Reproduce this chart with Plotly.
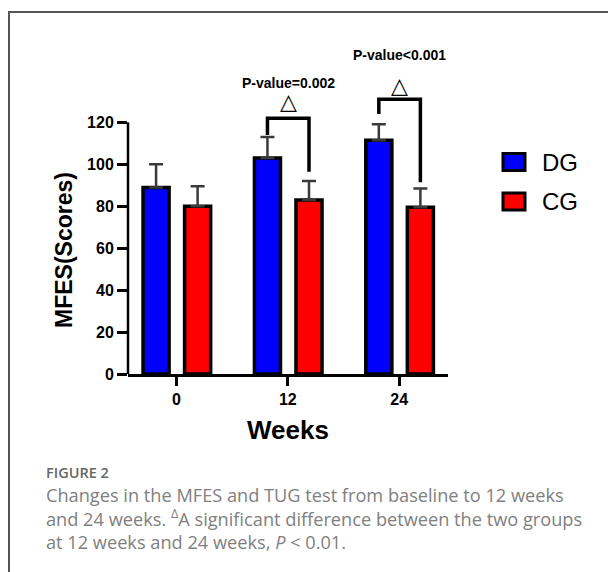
import plotly.graph_objects as go

# ---------------- data ----------------
weeks = ["0", "12", "24"]
dg_mean = [89, 103, 111.5]
dg_err = [11, 10, 7.6]
cg_mean = [80, 83, 79.5]
cg_err = [9.5, 9, 9]
y_ticks = [0, 20, 40, 60, 80, 100, 120]

# significance brackets (at week index 1 and 2)
sig_idx = [1, 2]
sig_left_bottom = [114, 124]
sig_top = [122, 131]
sig_right_bottom = [96.5, 91.5]
sig_tri_y = [129.8, 137.7]
sig_text_y = [138.6, 152]
sig_text = ["P-value=0.002", "P-value<0.001"]

# ---------------- layout geometry ----------------
OFF = 8  # page body margin
W, H = 616, 572
L, R = 128 - OFF, W - (448 - OFF)
T, B = 49 - OFF, H - (374 - OFF)
PW, PH = W - L - R, H - T - B


def px(x):
    return (x - OFF - L) / PW


def py(y):
    return (H - B - (y - OFF)) / PH


BAR_W = 0.234
DG_OFF = -0.30
CG_OFF = 0.073
dg_c = DG_OFF + BAR_W / 2
cg_c = CG_OFF + BAR_W / 2
xs = list(range(len(weeks)))

FONT = "Arial, Liberation Sans, sans-serif"

fig = go.Figure()
fig.add_trace(go.Bar(
    x=xs, y=dg_mean, name="DG", width=BAR_W, offset=DG_OFF,
    marker=dict(color="#0000FF", line=dict(color="black", width=3.5)),
    error_y=dict(type="data", symmetric=False, array=dg_err, arrayminus=[0] * 3,
                 color="#3a3a3a", thickness=2.5, width=7),
    showlegend=False,
))
fig.add_trace(go.Bar(
    x=xs, y=cg_mean, name="CG", width=BAR_W, offset=CG_OFF,
    marker=dict(color="#FF0000", line=dict(color="black", width=3.5)),
    error_y=dict(type="data", symmetric=False, array=cg_err, arrayminus=[0] * 3,
                 color="#3a3a3a", thickness=2.5, width=7),
    showlegend=False,
))

shapes = []
annotations = []

# y axis line (only up to 120)
shapes.append(dict(type="line", xref="x domain", yref="y", x0=0, x1=0,
                   y0=0, y1=max(y_ticks), line=dict(color="black", width=2.5)))

# brackets
for i, k in enumerate(sig_idx):
    xl = k + dg_c
    xr = k + cg_c
    path = (f"M {xl},{sig_left_bottom[i]} L {xl},{sig_top[i]} "
            f"L {xr},{sig_top[i]} L {xr},{sig_right_bottom[i]}")
    shapes.append(dict(type="path", xref="x", yref="y", path=path,
                       line=dict(color="black", width=3.5)))
    xm = k + (dg_c + cg_c) / 2
    annotations.append(dict(x=xm, y=sig_tri_y[i], xref="x", yref="y", text="△",
                            showarrow=False, font=dict(family="DejaVu Sans", size=22, color="black")))
    annotations.append(dict(x=xm, y=sig_text_y[i], xref="x", yref="y",
                            text=sig_text[i],
                            showarrow=False, font=dict(family=FONT, size=14, color="black", weight="bold")))

# legend (manual)
for lab, col, yc in [("DG", "#0000FF", 162), ("CG", "#FF0000", 201.5)]:
    shapes.append(dict(type="rect", xref="paper", yref="paper",
                       x0=px(503), x1=px(525), y0=py(yc - 8.5), y1=py(yc + 8.5),
                       fillcolor=col, line=dict(color="black", width=3)))
    annotations.append(dict(x=px(540), y=py(yc), xref="paper", yref="paper", text=lab,
                            xanchor="left", yanchor="middle", showarrow=False,
                            font=dict(family=FONT, size=24, color="black")))

# axis titles
annotations.append(dict(x=px(288), y=py(430), xref="paper", yref="paper", text="Weeks",
                        showarrow=False, xanchor="center", yanchor="middle",
                        font=dict(family=FONT, size=26, color="black", weight="bold")))
annotations.append(dict(x=px(64), y=py(250), xref="paper", yref="paper", text="MFES(Scores)",
                        showarrow=False, xanchor="center", yanchor="middle", textangle=-90,
                        font=dict(family=FONT, size=23, color="black", weight="bold")))

# frame
shapes.append(dict(type="path", xref="paper", yref="paper",
                   path=f"M {px(9)},{py(590)} L {px(9)},{py(12)} L {px(640)},{py(12)}",
                   line=dict(color="#555555", width=2)))

# caption
CAP_FONT = "Open Sans, Lato, sans-serif"
annotations.append(dict(x=px(44), y=py(473), xref="paper", yref="paper", text="FIGURE 2",
                        showarrow=False, xanchor="left", yanchor="middle",
                        font=dict(family=CAP_FONT, size=14.5, color="#666666", weight=600)))
cap_lines = [
    "Changes in the MFES and TUG test from baseline to 12 weeks",
    "and 24 weeks. <sup>Δ</sup>A significant difference between the two groups",
    "at 12 weeks and 24 weeks, <i>P</i> &lt; 0.01.",
]
annotations.append(dict(x=px(44), y=py(518.5), xref="paper", yref="paper",
                        text="<br>".join(cap_lines), align="left",
                        showarrow=False, xanchor="left", yanchor="middle",
                        font=dict(family=CAP_FONT, size=18.2, color="#808080")))

fig.update_layout(
    width=W, height=H,
    margin=dict(l=L, r=R, t=T, b=B),
    paper_bgcolor="white", plot_bgcolor="white",
    barmode="overlay",
    shapes=shapes, annotations=annotations,
    xaxis=dict(range=[-0.435, 2.438], tickvals=xs, ticktext=weeks,
               showline=True, linecolor="black", linewidth=2.5,
               ticks="outside", ticklen=9, tickwidth=2.5, tickcolor="black",
               showgrid=False, zeroline=False,
               tickfont=dict(family=FONT, size=16, color="black", weight="bold")),
    yaxis=dict(range=[0, 155], tickvals=y_ticks,
               showline=False, ticks="outside", ticklen=10, tickwidth=2.5, tickcolor="black",
               showgrid=False, zeroline=False,
               tickfont=dict(family=FONT, size=16, color="black", weight="bold")),
)

fig.write_html("out.html")
